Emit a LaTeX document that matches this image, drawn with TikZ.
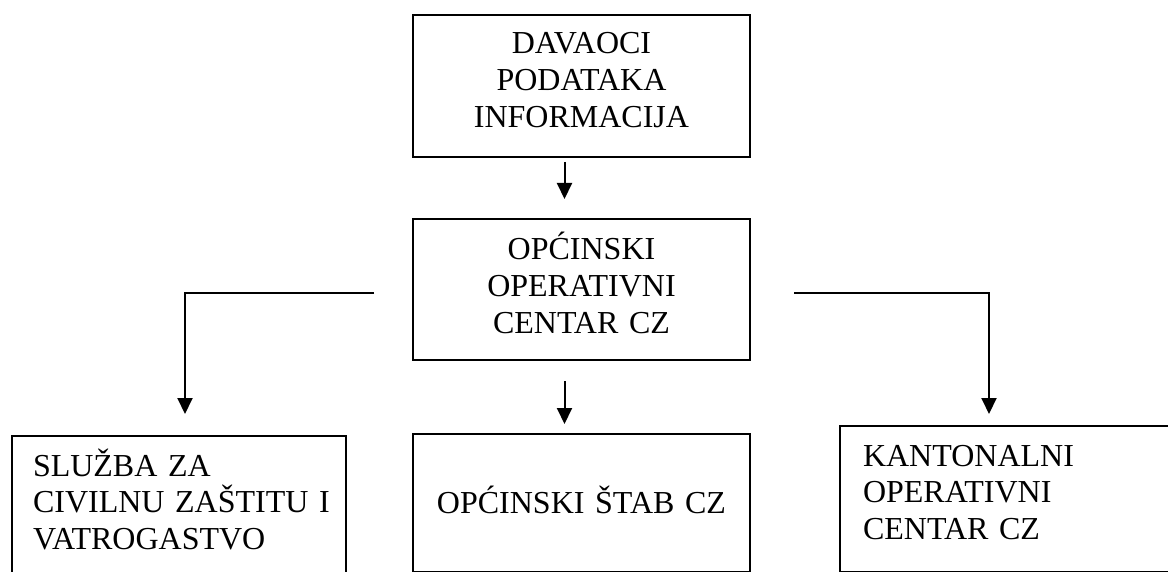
\documentclass[tikz,border=0pt]{standalone}
\usepackage{fontspec}
\setmainfont{Liberation Serif}
\usepackage{tikz}
\usetikzlibrary{positioning, arrows.meta}

\begin{document}
\begin{tikzpicture}[x=1pt, y=-1pt,
  box/.style={draw, line width=2pt, anchor=north west, inner ysep=0pt,
    font=\fontsize{32}{36.7}\selectfont},
  arr/.style={line width=2pt, -{Triangle[width=15pt,length=16pt]}}]
\useasboundingbox (0,0) rectangle (1168,572);
\clip (0,0) rectangle (1168,572);

% Top and middle boxes
\node[box, inner xsep=0pt, text width=337pt, align=center,
  text height=39pt, text depth=103pt]
  (davaoci) at (412,14) {DAVAOCI\\PODATAKA\\INFORMACIJA};
\node[box, inner xsep=0pt, text width=337pt, align=center,
  text height=41pt, text depth=100pt]
  (opcinski) at (412,218) {OPĆINSKI\\OPERATIVNI\\CENTAR CZ};

% Bottom row (cut by the page edge)
\node[box, inner xsep=21pt, text width=292pt, align=left,
  text height=40pt, text depth=200pt]
  (sluzba) at (11,435) {SLUŽBA ZA\\\mbox{CIVILNU ZAŠTITU I}\\VATROGASTVO};
\node[box, inner xsep=0pt, text width=337pt, align=center,
  text height=79pt, text depth=59pt]
  (stab) at (412,433) {OPĆINSKI ŠTAB CZ};
\node[box, inner xsep=23pt, text width=330pt, align=left,
  text height=40pt, text depth=106pt]
  (kanton) at (839,425) {KANTONALNI\\OPERATIVNI\\CENTAR CZ};

% Connectors
\coordinate (lstart) at ([xshift=-38pt,yshift=-3.5pt]opcinski.west);
\coordinate (ltip) at ([xshift=6pt,yshift=21pt]sluzba.north);
\coordinate (rstart) at ([xshift=43pt,yshift=-3.5pt]opcinski.east);
\coordinate (rtip) at ([xshift=150pt,yshift=11pt]kanton.north west);

\draw[arr] ([xshift=-17pt,yshift=-4pt]davaoci.south)
  -- ([xshift=-17pt,yshift=19pt]opcinski.north);
\draw[arr] ([xshift=-17pt,yshift=-20pt]opcinski.south)
  -- ([xshift=-17pt,yshift=9pt]stab.north);
\draw[arr] (lstart) -| (ltip);
\draw[arr] (rstart) -| (rtip);
\end{tikzpicture}
\end{document}
